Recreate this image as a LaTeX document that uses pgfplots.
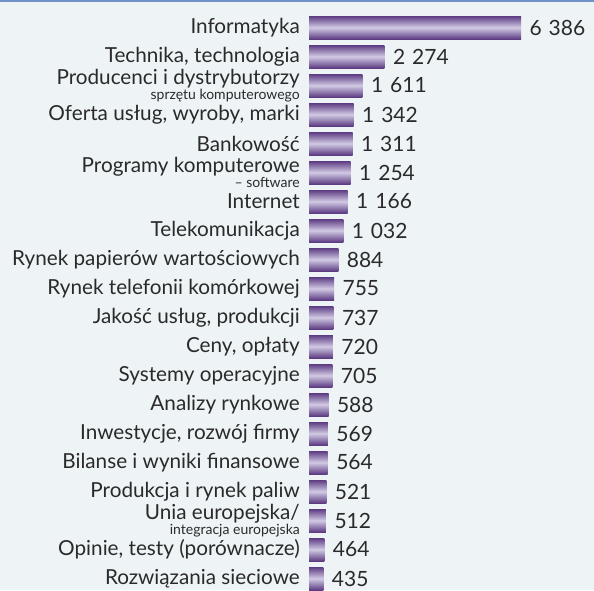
\documentclass[border=0pt]{standalone}
\usepackage{pgfplots}
\pgfplotsset{compat=1.18}
\usepackage{fontspec}
\setmainfont{Lato}
\definecolor{bg}{HTML}{EEF3F6}
\definecolor{barDark}{HTML}{5C3B82}
\definecolor{barLight}{HTML}{D2CAE4}
\definecolor{txt}{HTML}{2A2A2A}
\definecolor{topline}{HTML}{6F93C6}
\newcommand{\sub}[1]{\fontsize{14}{14}\selectfont #1}
\begin{document}
\begin{tikzpicture}[x=1pt,y=1pt]
\path[use as bounding box] (0,0) rectangle (594,-590);
\fill[bg] (0,0) rectangle (594,-590);
\fill[topline] (0,0) rectangle (594,-2);
\clip (0,0) rectangle (594,-590);
\begin{axis}[
  at={(309pt,0pt)}, anchor=north west,
  scale only axis, width=282pt, height=590pt,
  xmin=0, xmax=8494,
  ymin=-0.948, ymax=19.397, y dir=reverse,
  hide x axis,
  axis y line*=left,
  y axis line style={draw=none},
  ytick={0,...,19},
  major tick length=0pt,
  yticklabels={
    Informatyka,
    {Technika, technologia},
    {Producenci i dystrybutorzy\\[-6pt]\sub{sprzętu komputerowego}},
    {Oferta usług, wyroby, marki},
    Bankowość,
    {Programy komputerowe\\[-6pt]\sub{– software}},
    Internet,
    Telekomunikacja,
    Rynek papierów wartościowych,
    Rynek telefonii komórkowej,
    {Jakość usług, produkcji},
    {Ceny, opłaty},
    Systemy operacyjne,
    Analizy rynkowe,
    {Inwestycje, rozwój firmy},
    Bilanse i wyniki finansowe,
    Produkcja i rynek paliw,
    {Unia europejska/\\[-6pt]\sub{integracja europejska}},
    {Opinie, testy (porównacze)},
    Rozwiązania sieciowe},
  yticklabel style={font=\fontsize{20.7}{20.7}\selectfont, text=txt, align=right, inner sep=0pt, xshift=-9pt},
  clip=false,
  xbar, bar width=23pt, bar shift=0pt,
  nodes near coords={\pgfmathprintnumber[fixed,precision=0,1000 sep={\,\,},assume math mode=true]{\pgfplotspointmeta}},
  every node near coord/.append style={font=\fontsize{21}{21}\selectfont, text=txt, anchor=west, xshift=5pt},
  bs/.style={draw=none, top color=barDark, bottom color=barDark, middle color=barLight},
]
\addplot[bs] coordinates {(6386,0)};
\addplot[bs] coordinates {(2274,1)};
\addplot[bs] coordinates {(1611,2)};
\addplot[bs] coordinates {(1342,3)};
\addplot[bs] coordinates {(1311,4)};
\addplot[bs] coordinates {(1254,5)};
\addplot[bs] coordinates {(1166,6)};
\addplot[bs] coordinates {(1032,7)};
\addplot[bs] coordinates {(884,8)};
\addplot[bs] coordinates {(755,9)};
\addplot[bs] coordinates {(737,10)};
\addplot[bs] coordinates {(720,11)};
\addplot[bs] coordinates {(705,12)};
\addplot[bs] coordinates {(588,13)};
\addplot[bs] coordinates {(569,14)};
\addplot[bs] coordinates {(564,15)};
\addplot[bs] coordinates {(521,16)};
\addplot[bs] coordinates {(512,17)};
\addplot[bs] coordinates {(464,18)};
\addplot[bs] coordinates {(435,19)};
\end{axis}
\end{tikzpicture}
\end{document}
